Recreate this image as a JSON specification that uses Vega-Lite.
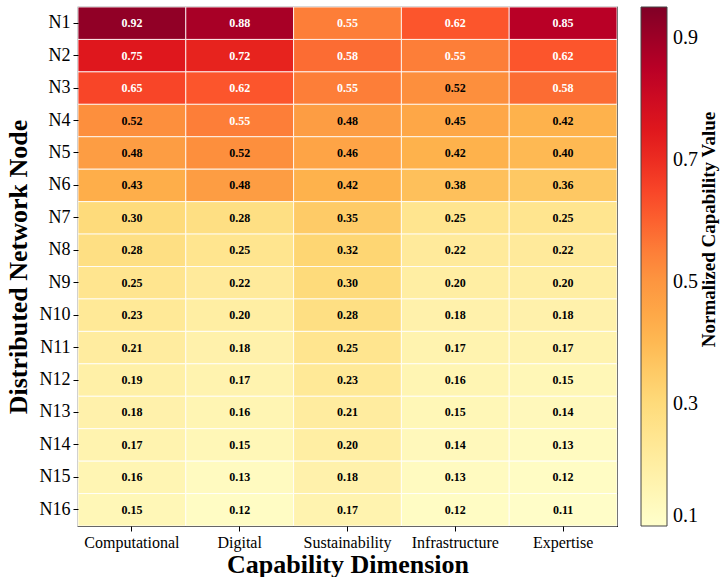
{
  "$schema": "https://vega.github.io/schema/vega-lite/v6.json",
  "autosize": {"type": "none"},
  "padding": {"left": 78, "top": 7, "right": 104, "bottom": 51},
  "width": 539,
  "height": 519,
  "background": "white",
  "config": {
    "font": "Times New Roman, Liberation Serif, serif",
    "view": {"stroke": "black", "strokeWidth": 1.2},
    "axis": {"labelFont": "Times New Roman, Liberation Serif, serif", "titleFont": "Times New Roman, Liberation Serif, serif", "labelColor": "black", "titleColor": "black", "tickColor": "black", "domain": false},
    "legend": {"labelFont": "Times New Roman, Liberation Serif, serif", "titleFont": "Times New Roman, Liberation Serif, serif"}
  },
  "data": {
    "values": [
      {"node": "N1", "dim": "Computational", "value": 0.92}, {"node": "N1", "dim": "Digital", "value": 0.88}, {"node": "N1", "dim": "Sustainability", "value": 0.55}, {"node": "N1", "dim": "Infrastructure", "value": 0.62}, {"node": "N1", "dim": "Expertise", "value": 0.85},
      {"node": "N2", "dim": "Computational", "value": 0.75}, {"node": "N2", "dim": "Digital", "value": 0.72}, {"node": "N2", "dim": "Sustainability", "value": 0.58}, {"node": "N2", "dim": "Infrastructure", "value": 0.55}, {"node": "N2", "dim": "Expertise", "value": 0.62},
      {"node": "N3", "dim": "Computational", "value": 0.65}, {"node": "N3", "dim": "Digital", "value": 0.62}, {"node": "N3", "dim": "Sustainability", "value": 0.55}, {"node": "N3", "dim": "Infrastructure", "value": 0.52}, {"node": "N3", "dim": "Expertise", "value": 0.58},
      {"node": "N4", "dim": "Computational", "value": 0.52}, {"node": "N4", "dim": "Digital", "value": 0.55}, {"node": "N4", "dim": "Sustainability", "value": 0.48}, {"node": "N4", "dim": "Infrastructure", "value": 0.45}, {"node": "N4", "dim": "Expertise", "value": 0.42},
      {"node": "N5", "dim": "Computational", "value": 0.48}, {"node": "N5", "dim": "Digital", "value": 0.52}, {"node": "N5", "dim": "Sustainability", "value": 0.46}, {"node": "N5", "dim": "Infrastructure", "value": 0.42}, {"node": "N5", "dim": "Expertise", "value": 0.40},
      {"node": "N6", "dim": "Computational", "value": 0.43}, {"node": "N6", "dim": "Digital", "value": 0.48}, {"node": "N6", "dim": "Sustainability", "value": 0.42}, {"node": "N6", "dim": "Infrastructure", "value": 0.38}, {"node": "N6", "dim": "Expertise", "value": 0.36},
      {"node": "N7", "dim": "Computational", "value": 0.30}, {"node": "N7", "dim": "Digital", "value": 0.28}, {"node": "N7", "dim": "Sustainability", "value": 0.35}, {"node": "N7", "dim": "Infrastructure", "value": 0.25}, {"node": "N7", "dim": "Expertise", "value": 0.25},
      {"node": "N8", "dim": "Computational", "value": 0.28}, {"node": "N8", "dim": "Digital", "value": 0.25}, {"node": "N8", "dim": "Sustainability", "value": 0.32}, {"node": "N8", "dim": "Infrastructure", "value": 0.22}, {"node": "N8", "dim": "Expertise", "value": 0.22},
      {"node": "N9", "dim": "Computational", "value": 0.25}, {"node": "N9", "dim": "Digital", "value": 0.22}, {"node": "N9", "dim": "Sustainability", "value": 0.30}, {"node": "N9", "dim": "Infrastructure", "value": 0.20}, {"node": "N9", "dim": "Expertise", "value": 0.20},
      {"node": "N10", "dim": "Computational", "value": 0.23}, {"node": "N10", "dim": "Digital", "value": 0.20}, {"node": "N10", "dim": "Sustainability", "value": 0.28}, {"node": "N10", "dim": "Infrastructure", "value": 0.18}, {"node": "N10", "dim": "Expertise", "value": 0.18},
      {"node": "N11", "dim": "Computational", "value": 0.21}, {"node": "N11", "dim": "Digital", "value": 0.18}, {"node": "N11", "dim": "Sustainability", "value": 0.25}, {"node": "N11", "dim": "Infrastructure", "value": 0.17}, {"node": "N11", "dim": "Expertise", "value": 0.17},
      {"node": "N12", "dim": "Computational", "value": 0.19}, {"node": "N12", "dim": "Digital", "value": 0.17}, {"node": "N12", "dim": "Sustainability", "value": 0.23}, {"node": "N12", "dim": "Infrastructure", "value": 0.16}, {"node": "N12", "dim": "Expertise", "value": 0.15},
      {"node": "N13", "dim": "Computational", "value": 0.18}, {"node": "N13", "dim": "Digital", "value": 0.16}, {"node": "N13", "dim": "Sustainability", "value": 0.21}, {"node": "N13", "dim": "Infrastructure", "value": 0.15}, {"node": "N13", "dim": "Expertise", "value": 0.14},
      {"node": "N14", "dim": "Computational", "value": 0.17}, {"node": "N14", "dim": "Digital", "value": 0.15}, {"node": "N14", "dim": "Sustainability", "value": 0.20}, {"node": "N14", "dim": "Infrastructure", "value": 0.14}, {"node": "N14", "dim": "Expertise", "value": 0.13},
      {"node": "N15", "dim": "Computational", "value": 0.16}, {"node": "N15", "dim": "Digital", "value": 0.13}, {"node": "N15", "dim": "Sustainability", "value": 0.18}, {"node": "N15", "dim": "Infrastructure", "value": 0.13}, {"node": "N15", "dim": "Expertise", "value": 0.12},
      {"node": "N16", "dim": "Computational", "value": 0.15}, {"node": "N16", "dim": "Digital", "value": 0.12}, {"node": "N16", "dim": "Sustainability", "value": 0.17}, {"node": "N16", "dim": "Infrastructure", "value": 0.12}, {"node": "N16", "dim": "Expertise", "value": 0.11}
    ]
  },
  "encoding": {
    "x": {
      "field": "dim", "type": "nominal", "sort": null,
      "scale": {"paddingInner": 0, "paddingOuter": 0},
      "axis": {"title": "Capability Dimension", "labelAngle": 0, "labelFontSize": 16, "labelPadding": 3, "tickSize": 5, "titleFontSize": 26, "titleFontWeight": "bold", "titlePadding": 1}
    }
  },
  "layer": [
    {
      "mark": {"type": "rect", "stroke": "white", "strokeWidth": 1, "strokeOpacity": 0.8},
      "encoding": {
        "y": {
          "field": "node", "type": "nominal", "sort": null,
          "scale": {"paddingInner": 0, "paddingOuter": 0},
          "axis": {"title": "Distributed Network Node", "labelFontSize": 18, "labelPadding": 3, "tickSize": 5, "titleFontSize": 26, "titleFontWeight": "bold", "titlePadding": 8}
        },
        "color": {
          "field": "value", "type": "quantitative",
          "scale": {
            "domain": [0.1, 0.20625, 0.3125, 0.41875, 0.525, 0.63125, 0.7375, 0.84375, 0.95],
            "range": ["#ffffcc", "#ffeda0", "#fed976", "#feb24c", "#fd8d3c", "#fc4e2a", "#e31a1c", "#bd0026", "#800026"],
            "interpolate": "rgb"
          },
          "legend": {
            "title": null,
            "orient": "none", "legendX": 563, "legendY": 0,
            "direction": "vertical",
            "gradientLength": 519, "gradientThickness": 26,
            "gradientStrokeColor": "#444", "gradientStrokeWidth": 1,
            "values": [0.1, 0.3, 0.5, 0.7, 0.9],
            "format": ".1f",
            "labelFontSize": 20, "labelColor": "black", "labelOffset": 6, "labelFlush": false
          }
        }
      }
    },
    {
      "mark": {"type": "text", "fontWeight": "bold", "fontSize": 12, "font": "Times New Roman, Liberation Serif, serif"},
      "encoding": {
        "y": {
          "field": "node", "type": "nominal", "sort": null,
          "axis": {
            "orient": "right", "labels": false, "ticks": false, "domain": false, "grid": false,
            "title": "Normalized Capability Value",
            "titleAngle": 270, "titleX": 91, "titleY": 222, "titleAlign": "center", "titleBaseline": "middle",
            "titleFontSize": 19, "titleFontWeight": "bold"
          }
        },
        "text": {"field": "value", "type": "quantitative", "format": ".2f"},
        "color": {"condition": {"test": "datum.value >= 0.55", "value": "white"}, "value": "black"}
      }
    }
  ],
  "resolve": {"axis": {"y": "independent"}}
}
